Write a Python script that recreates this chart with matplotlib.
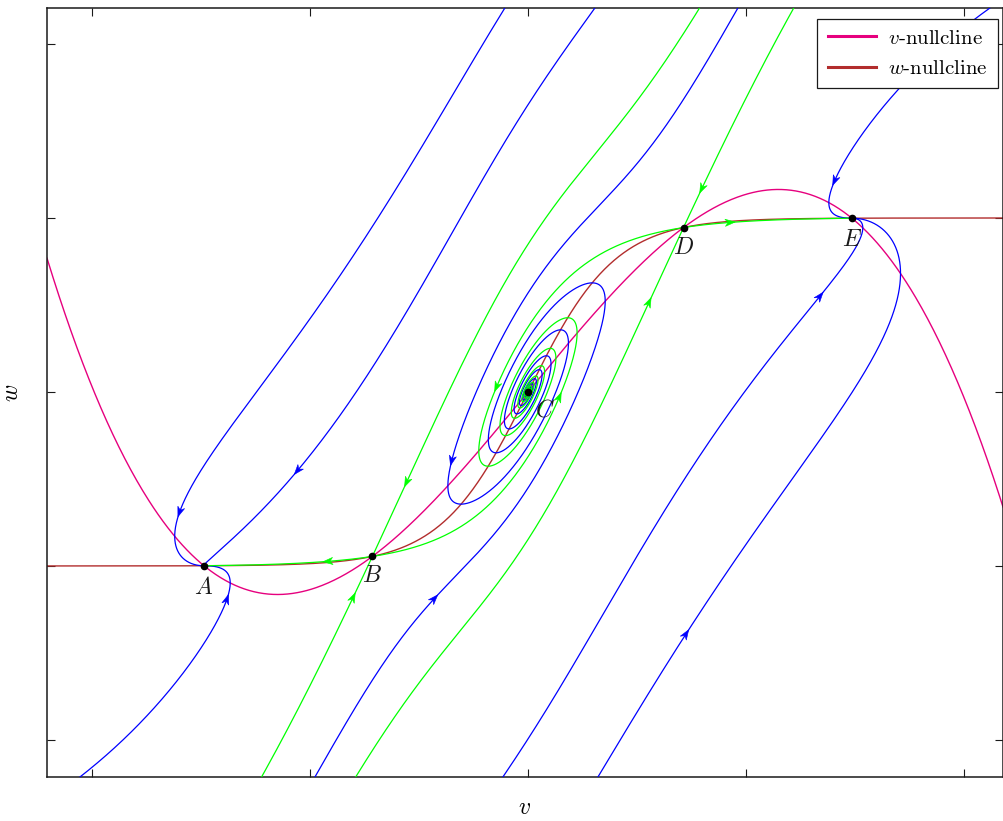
import math
import numpy as np
import matplotlib
matplotlib.use("Agg")
import matplotlib.pyplot as plt
from matplotlib.patches import Polygon
from matplotlib.transforms import IdentityTransform

plt.rcParams["font.family"] = "serif"
plt.rcParams["font.serif"] = ["cmr10", "DejaVu Serif"]
plt.rcParams["mathtext.fontset"] = "cm"
plt.rcParams["axes.formatter.use_mathtext"] = True

# ---- colours ----
MAGENTA = "#E6007E"   # v-nullcline
BROWN   = "#B22D2D"   # w-nullcline
GREEN   = "#00FF00"   # separatrices
BLUE    = "#0000FF"   # other orbits
INK     = "#1A1A1A"

# ---- model ----
# v' = D_LIN*v - C_CUB*v^3 - w      w' = EPS*(tanh(K_SIG*v) - w)
D_LIN, C_CUB, K_SIG, EPS = 1.52, 0.384, 2.5, 1.95

x_lim = (-2.206, 2.179)
y_lim = (-2.213, 2.207)
x_ticks = [-2, -1, 0, 1, 2]
y_ticks = [-2, -1, 0, 1, 2]

fp_names = ["A", "B", "C", "D", "E"]
fp_label_dx = [0, 0, 12, 0, 0]          # points
fp_label_dy = [-16, -14, -13, -15, -16]

# blue orbits: where they enter the frame, and where their arrow sits
blue_v0 = [-0.106, 0.307, 0.963, 2.119, -2.055, -0.977, -0.115, 0.321]
blue_w0 = [2.207, 2.207, 2.207, 2.207, -2.213, -2.213, -2.213, -2.213]
blue_av = [-1.596, -1.060, -0.372, 1.399, -1.367, -0.417, 1.349, 0.720]
blue_aw = [-0.690, -0.448, -0.391, 1.218, -1.195, -1.195, 0.546, -1.397]

# green separatrices: (saddle, manifold, upper branch?, arrow v, arrow w)
sep_saddle = ["B", "B", "B", "B", "D", "D", "D", "D"]
sep_kind   = ["s", "s", "u", "u", "s", "s", "u", "u"]
sep_upper  = [True, False, False, True, True, False, True, False]
sep_arr_v  = [-0.564, -0.807, -0.917, 0.156, 0.821, 0.569, 0.927, -0.142]
sep_arr_w  = [-0.517, -1.178, -0.983, -0.034, 1.161, 0.511, 0.977, 0.029]


def fv(v):
    return D_LIN * v - C_CUB * v ** 3


def field(v, w):
    return fv(v) - w, EPS * (math.tanh(K_SIG * v) - w)


def run(v, w, sign, stops=(), tmax=90.0, dt=0.004):
    out_v, out_w = [v], [w]
    h = sign * dt
    for _ in range(int(tmax / dt)):
        a1, b1 = field(v, w)
        a2, b2 = field(v + 0.5 * h * a1, w + 0.5 * h * b1)
        a3, b3 = field(v + 0.5 * h * a2, w + 0.5 * h * b2)
        a4, b4 = field(v + h * a3, w + h * b3)
        v += h / 6 * (a1 + 2 * a2 + 2 * a3 + a4)
        w += h / 6 * (b1 + 2 * b2 + 2 * b3 + b4)
        out_v.append(v); out_w.append(w)
        if abs(v) > 2.6 or abs(w) > 2.6:
            break
        if any(math.hypot(v - sv, w - sw) < 1.5e-3 for sv, sw in stops):
            break
    return np.array(out_v), np.array(out_w)


# fixed points of the model
grid = np.linspace(-2.5, 2.5, 5000)
h_grid = fv(grid) - np.tanh(K_SIG * grid)
fps = []
for i in np.where(np.sign(h_grid[:-1]) != np.sign(h_grid[1:]))[0]:
    lo, hi = grid[i], grid[i + 1]
    for _ in range(60):
        mid = 0.5 * (lo + hi)
        if np.sign(fv(mid) - math.tanh(K_SIG * mid)) == np.sign(fv(lo) - math.tanh(K_SIG * lo)):
            lo = mid
        else:
            hi = mid
    vv = 0.5 * (lo + hi)
    fps.append((vv, math.tanh(K_SIG * vv)))
fp = dict(zip(fp_names, fps))
sinks = [fp["A"], fp["C"], fp["E"]]


def jac(v):
    t = math.tanh(K_SIG * v)
    return np.array([[D_LIN - 3 * C_CUB * v ** 2, -1.0],
                     [EPS * K_SIG * (1 - t * t), -EPS]])


fig = plt.figure(figsize=(10.04, 8.21), dpi=100)
ax = fig.add_axes([47 / 1004, 44 / 821, 956 / 1004, 769 / 821])
ax.set_xlim(*x_lim)
ax.set_ylim(*y_lim)


def arrow(xs, ys, tv, tw, col):
    # stealth-style head, built in pixel space so it is not skewed by the aspect
    i = int(np.argmin((xs - tv) ** 2 + (ys - tw) ** 2))
    i = min(max(i, 1), len(xs) - 2)
    p = ax.transData.transform((xs[i], ys[i]))
    q = ax.transData.transform((xs[i + 1], ys[i + 1]))
    u = (q - p) / np.hypot(*(q - p))
    n = np.array([-u[1], u[0]])
    tip = p + u * 5
    L, W = 10.0, 3.6
    pts = [tip, tip - u * L + n * W, tip - u * L * 0.7, tip - u * L - n * W]
    ax.add_patch(Polygon(pts, closed=True, transform=IdentityTransform(),
                         fc=col, ec=col, lw=0.4, zorder=5))


# nullclines
vs = np.linspace(x_lim[0], x_lim[1], 800)
ax.plot(vs, fv(vs), color=MAGENTA, lw=1.0, label=r"$v$-nullcline", zorder=2)
ax.plot(vs, np.tanh(K_SIG * vs), color=BROWN, lw=1.0, label=r"$w$-nullcline", zorder=2)

# blue orbits
for sv, sw, av, aw in zip(blue_v0, blue_w0, blue_av, blue_aw):
    xs, ys = run(sv, sw, 1, stops=sinks)
    ax.plot(xs, ys, color=BLUE, lw=0.9, zorder=3)
    arrow(xs, ys, av, aw, BLUE)

# green separatrices
for name, kind, upper, av, aw in zip(sep_saddle, sep_kind, sep_upper, sep_arr_v, sep_arr_w):
    sv, sw = fp[name]
    lam, vec = np.linalg.eig(jac(sv))
    j = int(np.argmin(lam)) if kind == "s" else int(np.argmax(lam))
    e = np.real(vec[:, j])
    if e[1] < 0 or (e[1] == 0 and e[0] < 0):
        e = -e
    if not upper:
        e = -e
    p0 = (sv + 1e-5 * e[0], sw + 1e-5 * e[1])
    if kind == "s":
        xs, ys = run(*p0, -1)
        xs, ys = xs[::-1], ys[::-1]        # forward time order
        xs = np.concatenate([xs, [sv]]); ys = np.concatenate([ys, [sw]])
    else:
        xs, ys = run(*p0, 1, stops=sinks)
        xs = np.concatenate([[sv], xs]); ys = np.concatenate([[sw], ys])
    ax.plot(xs, ys, color=GREEN, lw=0.9, zorder=3)
    arrow(xs, ys, av, aw, GREEN)

# fixed points
for name, dx, dy in zip(fp_names, fp_label_dx, fp_label_dy):
    pv, pw = fp[name]
    ax.plot(pv, pw, "o", color="black", ms=4.5, zorder=6)
    ax.annotate(rf"${name}$", (pv, pw), xytext=(dx, dy), textcoords="offset points",
                ha="center", va="center", fontsize=17, color=INK, zorder=7)

ax.set_xticks(x_ticks)
ax.set_yticks(y_ticks)
ax.tick_params(direction="in", top=True, right=True, length=6, width=0.8,
               labelbottom=False, labelleft=False, colors=INK)
for s in ax.spines.values():
    s.set_linewidth(1.1)
    s.set_color(INK)
ax.set_xlabel(r"$v$", fontsize=17, labelpad=14)
ax.set_ylabel(r"$w$", fontsize=17, labelpad=17)

leg = ax.legend(loc="upper right", bbox_to_anchor=(0.995, 0.986), borderaxespad=0,
                fontsize=15, fancybox=False, edgecolor=INK, framealpha=1,
                handlelength=2.3, handletextpad=0.6, borderpad=0.5, labelspacing=0.55)
leg.set_zorder(10)
leg.get_frame().set_linewidth(0.9)
for line in leg.get_lines():
    line.set_linewidth(2.2)

fig.savefig("out.png", dpi=100, facecolor="white")
